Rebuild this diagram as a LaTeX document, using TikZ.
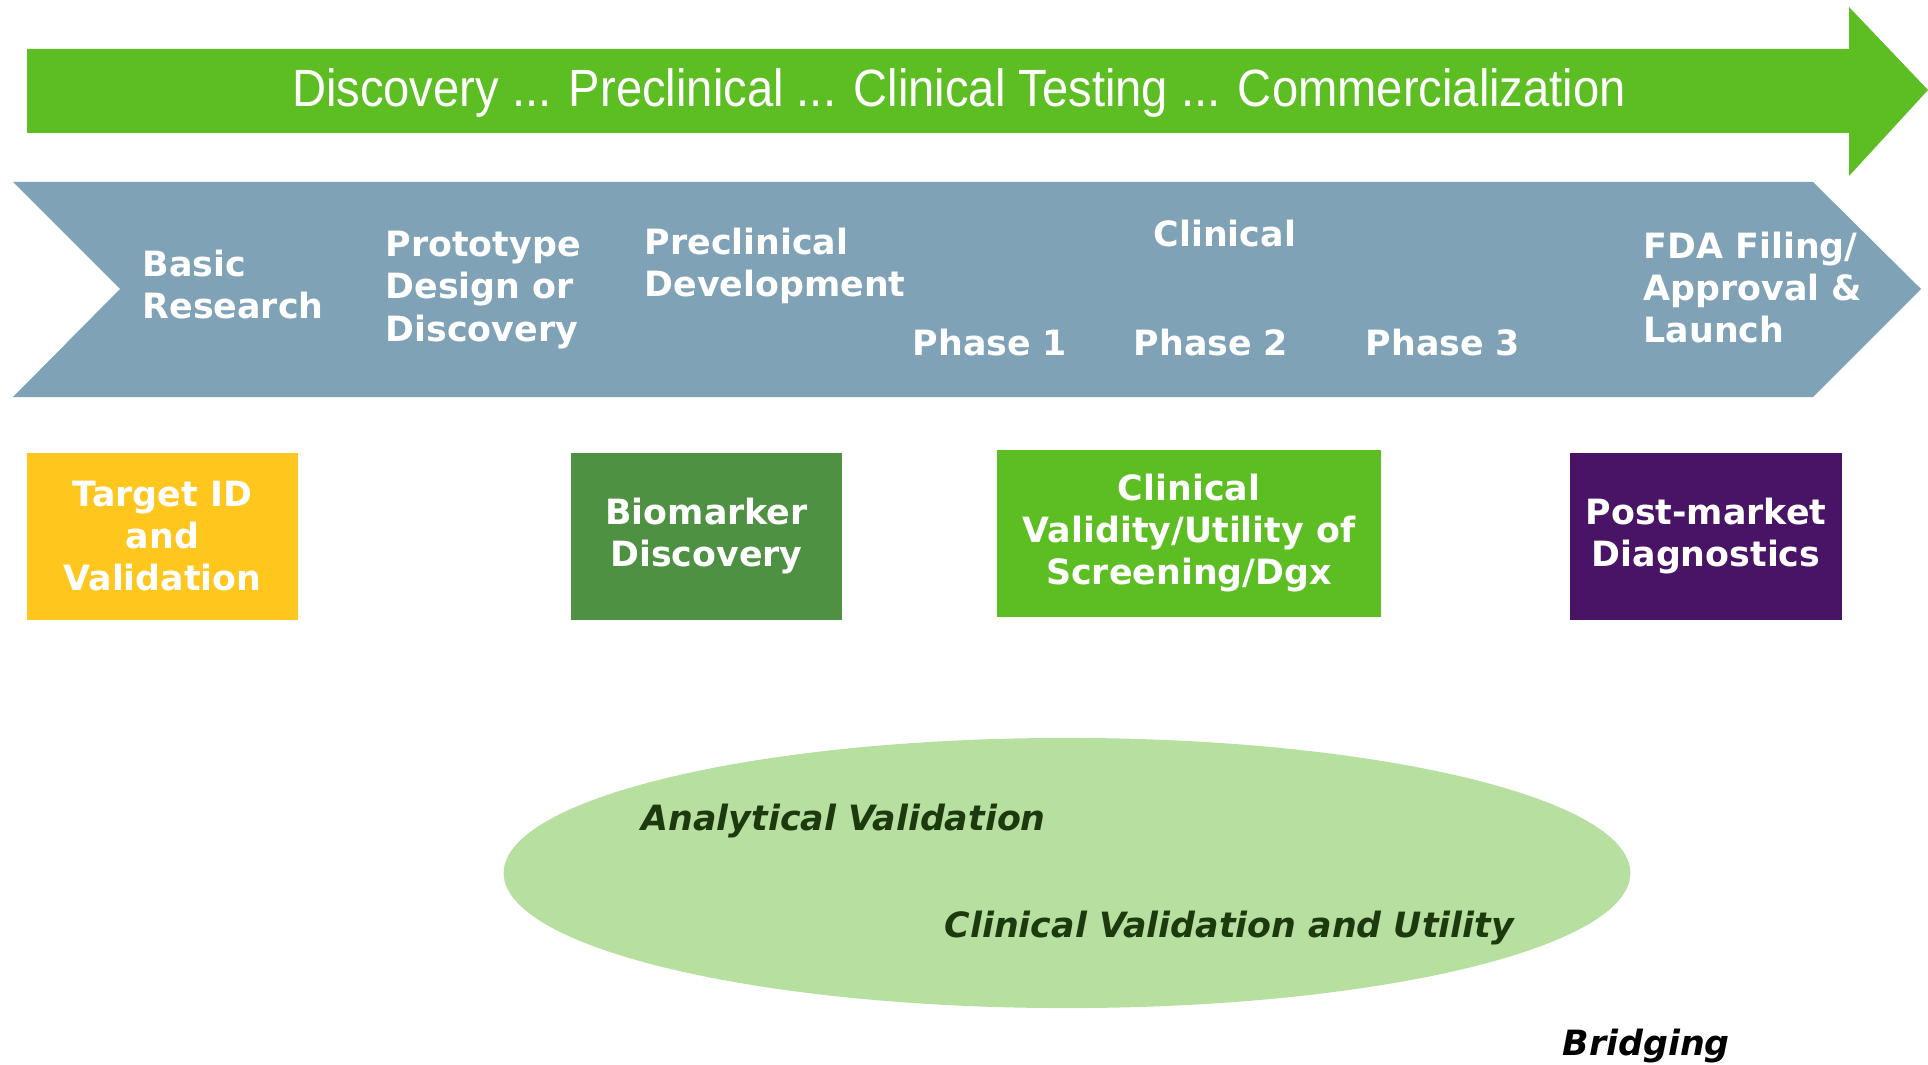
\documentclass[tikz,border=0pt]{standalone}
\usepackage{fontspec}
\setmainfont{DejaVu Sans}
\newfontfamily\headfont{Liberation Sans}[FakeStretch=0.90]
\usetikzlibrary{positioning}

\definecolor{arrowgreen}{RGB}{93,190,35}
\definecolor{bandblue}{RGB}{128,162,183}
\definecolor{targetyellow}{RGB}{255,198,30}
\definecolor{markergreen}{RGB}{78,145,66}
\definecolor{postpurple}{RGB}{74,20,102}
\definecolor{ovalgreen}{RGB}{182,223,160}
\definecolor{ovaltext}{RGB}{28,58,14}

\begin{document}
\begin{tikzpicture}[x=0.01cm, y=-0.01cm,
        stage/.style={text=white, inner sep=0, anchor=base west, align=left, font=\fontsize{9.9}{11.95}\selectfont\bfseries},
        block/.style={rectangle, text=white, inner sep=0, minimum width=2.71cm, minimum height=1.66cm, align=center, font=\fontsize{9.9}{11.95}\selectfont\bfseries},
        note/.style={inner sep=0, anchor=base west, font=\fontsize{9.9}{11.95}\selectfont\bfseries\itshape}]
        \useasboundingbox (0,0) rectangle (1928,1064);

        % overall flow arrow
        \fill[arrowgreen] (27,49) -- (1849,49) -- (1849,7) -- (1928,90) -- (1849,176) -- (1849,133) -- (27,133) -- cycle;
        \node[inner sep=0, anchor=base, text=white, font=\headfont\fontsize{14.9}{17}\selectfont] (flow) at (959,107) {Discovery ... Preclinical ... Clinical Testing ... Commercialization};

        % stage chevron, multi-line labels sit on their last baseline
        \fill[bandblue] (13,182) -- (1813,182) -- (1921,289) -- (1813,397) -- (13,397) -- (120,289) -- cycle;
        \node[stage] (basic) at (142,319) {Basic\\Research};
        \node[stage] (proto) at (385,341) {Prototype\\Design or\\Discovery};
        \node[stage] (precl) at (644,297) {Preclinical\\Development};
        \node[stage] (clin) at (1153,247) {Clinical};
        \node[stage] (ph1) at (912,356) {Phase 1};
        \node[stage] (ph2) at (1133,356) {Phase 2};
        \node[stage] (ph3) at (1365,356) {Phase 3};
        \node[stage] (fda) at (1643,343) {FDA Filing/\\Approval \&\\Launch};

        \node[block, fill=targetyellow] (target) at (162.5,536.5) {Target ID\\and\\Validation};
        \node[block, fill=markergreen] (biomarker) at (706.5,536.5) {Biomarker\\Discovery};
        \node[block, fill=arrowgreen, minimum width=3.83cm, minimum height=1.67cm] (validity) at (1189,533.5) {Clinical\\Validity/Utility of\\Screening/Dgx};
        \node[block, fill=postpurple] (postmarket) at (1706,536.5) {Post-market\\Diagnostics};

        % validation oval
        \fill[ovalgreen] (1067,873) ellipse [x radius=5.63cm, y radius=1.35cm];
        \node[note, text=ovaltext] (analytical) at (641,830) {Analytical Validation};
        \node[note, text=ovaltext] (clinval) at (944,937) {Clinical Validation and Utility};
        \node[note] (bridging) at (1562,1055) {Bridging};
\end{tikzpicture}
\end{document}
